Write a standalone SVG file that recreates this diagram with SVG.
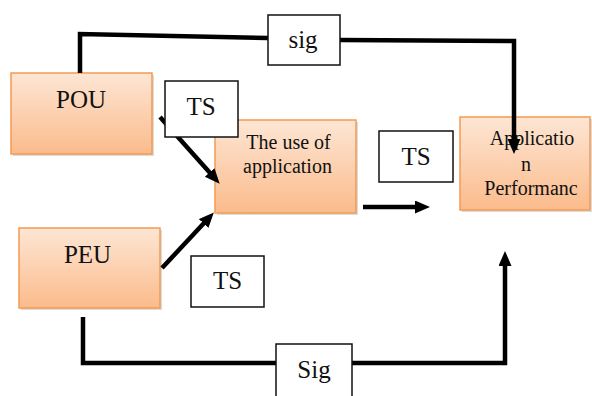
<svg xmlns="http://www.w3.org/2000/svg" width="592" height="396" viewBox="0 0 592 396">
  <defs>
    <linearGradient id="og" x1="0" y1="0" x2="0" y2="1">
      <stop offset="0" stop-color="#fde6d4"/>
      <stop offset="1" stop-color="#fbbb8c"/>
    </linearGradient>
    <marker id="ah" markerUnits="userSpaceOnUse" markerWidth="16" markerHeight="14" refX="2" refY="6.5" orient="auto">
      <path d="M0,0 L15,6.5 L0,13 z" fill="#000"/>
    </marker>
  </defs>
  <style>
    .box { fill: url(#og); stroke: #f59a52; stroke-width: 1.5; }
    .shadow { fill: #999; opacity: 0.35; }
    .lbl { fill: #fff; stroke: #111; stroke-width: 1.5; }
    .t { font-family: "Liberation Serif", "Times New Roman", serif; fill: #111; text-anchor: middle; }
    .big { font-size: 25px; }
    .mid { font-size: 20px; }
    .con { fill: none; stroke: #000; stroke-width: 4.5; stroke-linejoin: miter; }
  </style>

  <g id="POU">
    <rect class="shadow" x="13" y="75" width="141" height="81"/>
    <rect class="box" x="11" y="73" width="141" height="81"/>
    <text class="t big" x="81" y="108">POU</text>
  </g>
  <g id="PEU">
    <rect class="shadow" x="21" y="230" width="141" height="80"/>
    <rect class="box" x="19" y="228" width="141" height="80"/>
    <text class="t big" x="87.5" y="263">PEU</text>
  </g>
  <g id="use">
    <rect class="shadow" x="217" y="122" width="141" height="93"/>
    <rect class="box" x="215" y="120" width="141" height="93"/>
    <text class="t mid" x="288.5" y="149">The use of</text>
    <text class="t mid" x="287.5" y="173">application</text>
  </g>
  <g id="perf">
    <rect class="shadow" x="462" y="119" width="130" height="93"/>
    <rect class="box" x="460" y="117" width="130" height="93"/>
    <text class="t mid" x="532" y="145">Applicatio</text>
    <text class="t mid" x="526" y="171">n</text>
    <text class="t mid" x="531" y="195">Performanc</text>
  </g>

  <g id="connectors">
    <polyline class="con" points="80,73 80,34 268,38"/>
    <polyline class="con" points="340,40 514,41 514,141" marker-end="url(#ah)"/>
    <line class="con" x1="160" y1="117" x2="211" y2="174" marker-end="url(#ah)"/>
    <line class="con" x1="162" y1="268" x2="205" y2="222" marker-end="url(#ah)"/>
    <line class="con" x1="363" y1="207" x2="417" y2="207" marker-end="url(#ah)"/>
    <polyline class="con" points="83,317 83,363 276,363"/>
    <polyline class="con" points="352,363 505,363 505,264" marker-end="url(#ah)"/>
  </g>

  <g id="sig-top">
    <rect class="lbl" x="268" y="15" width="72" height="50"/>
    <text class="t big" x="303" y="48">sig</text>
  </g>
  <g id="ts1">
    <rect class="lbl" x="165" y="81" width="73" height="56"/>
    <text class="t big" x="201" y="115">TS</text>
  </g>
  <g id="ts2">
    <rect class="lbl" x="379" y="131" width="74" height="51"/>
    <text class="t big" x="416" y="165">TS</text>
  </g>
  <g id="ts3">
    <rect class="lbl" x="191" y="256" width="73" height="51"/>
    <text class="t big" x="227.5" y="289">TS</text>
  </g>
  <g id="sig-bottom">
    <rect class="lbl" x="276" y="344" width="76" height="60"/>
    <text class="t big" x="314" y="378">Sig</text>
  </g>
</svg>
